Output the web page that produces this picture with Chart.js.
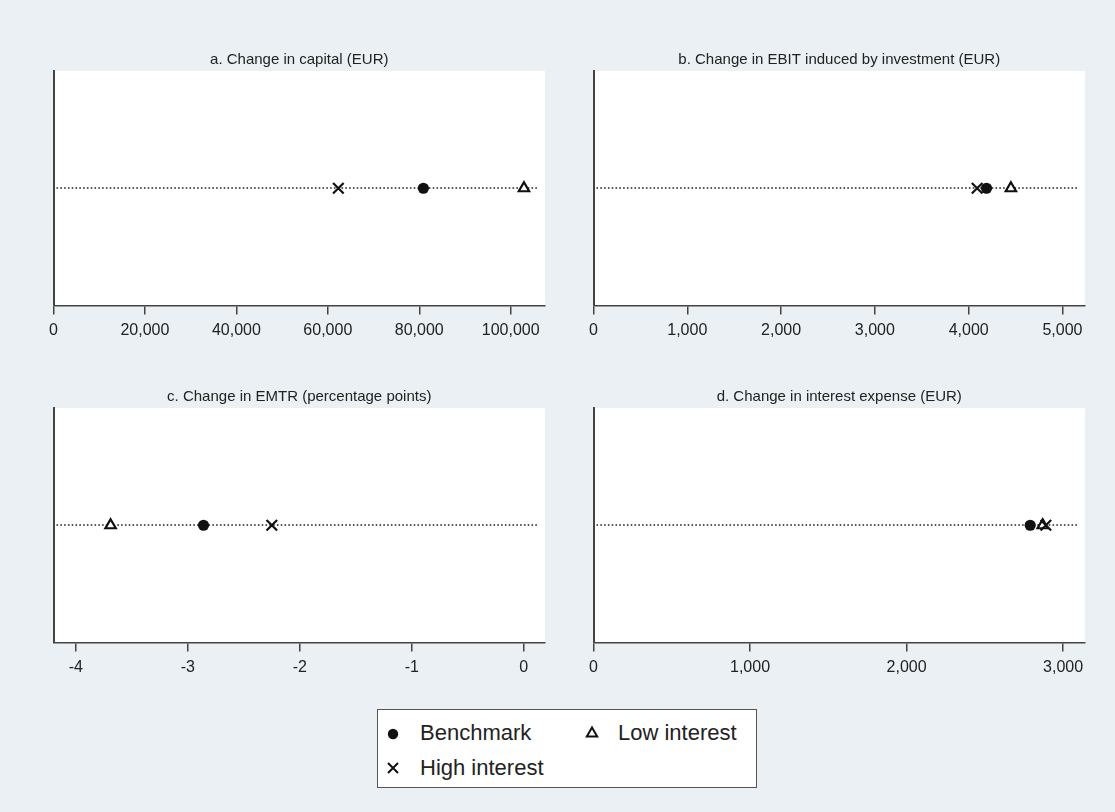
<!DOCTYPE html>
<html>
<head>
<meta charset="utf-8">
<script src="https://cdn.jsdelivr.net/npm/chart.js@4.4.1/dist/chart.umd.min.js"></script>
<style>
  html, body { margin: 0; padding: 0; }
  body {
    width: 1115px; height: 812px; position: relative; overflow: hidden;
    background: #eaf0f3;
    font-family: "Liberation Sans", Arial, Helvetica, sans-serif;
  }
  canvas { position: absolute; }
  #legendBox {
    position: absolute; left: 377px; top: 709px; width: 380px; height: 79px;
    box-sizing: border-box; background: #fff; border: 1.5px solid #555;
  }
  .lg-text {
    position: absolute; height: 26px; line-height: 26px;
    font-size: 22px; color: #222; white-space: nowrap;
  }
  .lg-mark { position: absolute; }
</style>
</head>
<body>
<canvas id="panelA" width="540" height="312" style="left:23px;top:38px"></canvas>
<canvas id="panelB" width="540" height="312" style="left:563px;top:38px"></canvas>
<canvas id="panelC" width="540" height="312" style="left:23px;top:375px"></canvas>
<canvas id="panelD" width="540" height="312" style="left:563px;top:375px"></canvas>

<div id="legendBox"></div>
<svg class="lg-mark" style="left:385px;top:726px" width="16" height="16" viewBox="0 0 16 16">
  <circle cx="8" cy="8" r="5.2" fill="#111"/>
</svg>
<div class="lg-text" id="lgBench" style="left:420px;top:720px"></div>
<svg class="lg-mark" style="left:584px;top:725px" width="16" height="16" viewBox="0 0 16 16">
  <polygon points="8,2.5 13.2,11.5 2.8,11.5" fill="#fff" stroke="#111" stroke-width="2" stroke-linejoin="miter"/>
</svg>
<div class="lg-text" id="lgLow" style="left:618px;top:720px"></div>
<svg class="lg-mark" style="left:385px;top:760px" width="16" height="16" viewBox="0 0 16 16">
  <path d="M3 3 L13 13 M13 3 L3 13" stroke="#111" stroke-width="2"/>
</svg>
<div class="lg-text" id="lgHigh" style="left:420px;top:755px"></div>

<script>
// Panel titles and series names
const panelTitles = [
  'a. Change in capital (EUR)',
  'b. Change in EBIT induced by investment (EUR)',
  'c. Change in EMTR (percentage points)',
  'd. Change in interest expense (EUR)'
];
const seriesNames = ['Benchmark', 'Low interest', 'High interest'];

// One value per panel (a, b, c, d)
const benchmark    = [80900, 4190, -2.86, 2790];
const lowInterest  = [102900, 4450, -3.69, 2870];
const highInterest = [62300, 4090, -2.25, 2890];

// Axis ticks and ranges per panel
const ticksA = [0, 20000, 40000, 60000, 80000, 100000];
const ticksB = [0, 1000, 2000, 3000, 4000, 5000];
const ticksC = [-4, -3, -2, -1, 0];
const ticksD = [0, 1000, 2000, 3000];
const axisMin = [0, 0, -4.2, 0];
const axisMax = [107500, 5240, 0.19, 3140];

const tickSets = [ticksA, ticksB, ticksC, ticksD];
const canvasIds = ['panelA', 'panelB', 'panelC', 'panelD'];
const FONT = '"Liberation Sans", Arial, Helvetica, sans-serif';
const INK = '#111';
const AXIS = '#444';

document.getElementById('lgBench').textContent = seriesNames[0];
document.getElementById('lgLow').textContent = seriesNames[1];
document.getElementById('lgHigh').textContent = seriesNames[2];

// White plot region
const plotBackground = {
  id: 'plotBackground',
  beforeDraw(chart) {
    const { ctx, chartArea: a } = chart;
    ctx.save();
    ctx.fillStyle = '#ffffff';
    ctx.fillRect(a.left, a.top, a.right - a.left, a.bottom - a.top);
    ctx.restore();
  }
};

// Dotted guide line through the markers
const guideLine = {
  id: 'guideLine',
  beforeDatasetsDraw(chart) {
    const { ctx, chartArea: a, scales } = chart;
    const py = Math.round(scales.y.getPixelForValue(0));
    ctx.save();
    ctx.strokeStyle = '#222';
    ctx.lineWidth = 1.7;
    ctx.setLineDash([1.6, 2.2]);
    ctx.beginPath();
    ctx.moveTo(a.left + 3, py);
    ctx.lineTo(a.right - 6, py);
    ctx.stroke();
    ctx.restore();
  }
};

function makePanel(i) {
  return new Chart(document.getElementById(canvasIds[i]), {
    type: 'scatter',
    data: {
      datasets: [
        {
          label: seriesNames[0],
          data: [{ x: benchmark[i], y: 0 }],
          pointStyle: 'circle', pointRadius: 5.6,
          backgroundColor: INK, borderColor: INK, borderWidth: 0
        },
        {
          label: seriesNames[2],
          data: [{ x: highInterest[i], y: 0 }],
          pointStyle: 'crossRot', pointRadius: 7.5,
          backgroundColor: INK, borderColor: INK, borderWidth: 2.2
        },
        {
          label: seriesNames[1],
          data: [{ x: lowInterest[i], y: 0 }],
          pointStyle: 'triangle', pointRadius: 6,
          backgroundColor: '#fff', borderColor: INK, borderWidth: 2.2
        }
      ]
    },
    options: {
      responsive: false,
      animation: false,
      events: [],
      layout: { padding: { left: 30.5, right: 18, top: 0, bottom: 4.5 } },
      plugins: {
        legend: { display: false },
        tooltip: { enabled: false },
        title: {
          display: true,
          text: panelTitles[i],
          color: '#222',
          font: { family: FONT, size: 15, weight: 'normal', lineHeight: 1 },
          padding: { top: 14.5, bottom: 3.5 }
        }
      },
      scales: {
        x: {
          type: 'linear',
          min: axisMin[i],
          max: axisMax[i],
          afterBuildTicks: (s) => { s.ticks = tickSets[i].map(v => ({ value: v })); },
          afterFit: (s) => { s.height = 40; },
          ticks: {
            color: '#222',
            font: { family: FONT, size: 16 },
            padding: 6,
            maxRotation: 0,
            autoSkip: false,
            callback: (v) => Number(v).toLocaleString('en-US')
          },
          grid: { drawOnChartArea: false, drawTicks: true, tickLength: 9, color: AXIS, lineWidth: 1.5 },
          border: { display: true, color: AXIS, width: 1.5 }
        },
        y: {
          min: -1,
          max: 1,
          afterFit: (s) => { s.width = 0; },
          ticks: { display: false },
          grid: { display: true, drawOnChartArea: false, drawTicks: false },
          border: { display: true, color: AXIS, width: 2 }
        }
      }
    },
    plugins: [plotBackground, guideLine]
  });
}

for (let i = 0; i < 4; i++) makePanel(i);
</script>
</body>
</html>
